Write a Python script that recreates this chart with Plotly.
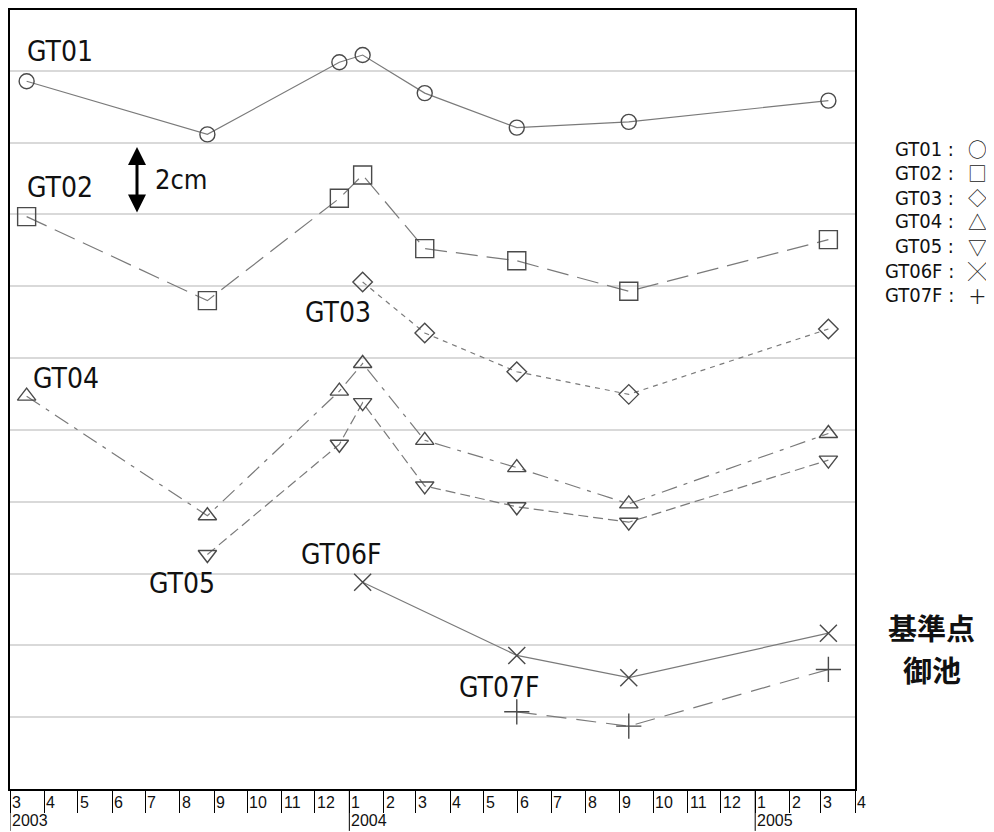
import plotly.graph_objects as go

# ---------------- data ----------------
survey_dates = ["2003-03-16", "2003-08-26", "2003-12-23", "2004-01-13",
                "2004-03-09", "2004-05-31", "2004-09-09", "2005-03-08"]

# plotted vertical positions (cm, stacked offsets as drawn)
gt01 = [19.71, 18.23, 20.24, 20.44, 19.38, 18.42, 18.58, 19.17]
gt02 = [15.94, 13.60, 16.45, 17.10, 15.05, 14.71, 13.86, 15.30]
gt03 = [14.12, 12.70, 11.62, 10.99, 12.81]
gt04 = [10.94, 7.61, 11.08, 11.85, 9.71, 8.95, 7.94, 9.90]
gt05 = [6.53, 9.60, 10.76, 8.44, 7.86, 7.43, 9.16]
gt06f = [5.76, 3.72, 3.10, 4.34]
gt07f = [2.15, 1.75, 3.33]

gt03_dates = survey_dates[3:]
gt05_dates = survey_dates[1:]
gt06f_dates = [survey_dates[3], survey_dates[5], survey_dates[6], survey_dates[7]]
gt07f_dates = survey_dates[5:]

station_names = ["GT01", "GT02", "GT03", "GT04", "GT05", "GT06F", "GT07F"]
legend_glyphs = ["○", "□", "◇", "△", "▽", "╳", "＋"]

month_ticks = ["2003-%02d-01" % m for m in range(3, 13)] + \
              ["2004-%02d-01" % m for m in range(1, 13)] + \
              ["2005-%02d-01" % m for m in range(1, 5)]
month_labels = [str(int(d[5:7])) for d in month_ticks]
year_ticks = ["2003-03-01", "2004-01-01", "2005-01-01"]
year_labels = ["2003", "2004", "2005"]

# ---------------- layout geometry ----------------
PAGE_OFF = 8                       # default body margin of the html page
W, H = 994 - PAGE_OFF, 832 - PAGE_OFF
PLOT_L, PLOT_T, PLOT_R, PLOT_B = 10, 8, 855, 789   # plot box in window pixels
ML, MT = PLOT_L - PAGE_OFF, PLOT_T - PAGE_OFF
PW, PH = PLOT_R - PLOT_L, PLOT_B - PLOT_T
MR, MB = W - ML - PW, H - MT - PH

def P(px, py):
    """window pixel -> paper fraction"""
    return (px - PLOT_L) / PW, (PLOT_B - py) / PH

LINE_C = "#7a7a7a"
MARK_C = "#4a4a4a"
NARROW = "Liberation Sans Narrow, Arial Narrow, DejaVu Sans Condensed, sans-serif"
TICKF = dict(family="Liberation Sans, Arial, sans-serif", size=16, color="#111")

series = [
    ("GT01", survey_dates, gt01, "circle-open", 15, "solid"),
    ("GT02", survey_dates, gt02, "square-open", 18, "22px,9px"),
    ("GT03", gt03_dates, gt03, "diamond-open", 15, "5px,5px"),
    ("GT04", survey_dates, gt04, "triangle-up-open", 16, "16px,7px,4px,7px"),
    ("GT05", gt05_dates, gt05, "triangle-down-open", 16, "10px,5px"),
    ("GT06F", gt06f_dates, gt06f, "x-thin-open", 17, "solid"),
    ("GT07F", gt07f_dates, gt07f, "cross-thin-open", 18, "20px,10px"),
]

fig = go.Figure()
for name, xs, ys, sym, size, dash in series:
    fig.add_trace(go.Scatter(
        x=xs, y=ys, name=name, mode="lines+markers",
        line=dict(color=LINE_C, width=1.2, dash=dash),
        marker=dict(symbol=sym, size=size, color=MARK_C,
                    line=dict(color=MARK_C, width=1.4)),
        showlegend=False, hoverinfo="x+y+name",
    ))

annotations = []
shapes = []

# month tick labels (left aligned next to each tick)
for d, lab in zip(month_ticks, month_labels):
    annotations.append(dict(x=d, xref="x", y=P(0, 803)[1], yref="paper",
                            text=lab, showarrow=False, xanchor="left", yanchor="middle",
                            xshift=0, font=TICKF))
for d, lab in zip(year_ticks, year_labels):
    annotations.append(dict(x=d, xref="x", y=P(0, 821)[1], yref="paper",
                            text=lab, showarrow=False, xanchor="left", yanchor="middle",
                            xshift=0, font=TICKF))
    shapes.append(dict(type="line", xref="x", yref="paper", x0=d, x1=d,
                       y0=0, y1=P(0, 831)[1], line=dict(color="black", width=1)))

# station labels inside the plot
label_pos = {"GT01": (60, 50), "GT02": (60, 186), "GT03": (338, 311), "GT04": (66, 377),
             "GT05": (182, 583), "GT06F": (341, 554), "GT07F": (499, 687)}
for name, (px, py) in label_pos.items():
    x, y = P(px, py)
    annotations.append(dict(x=x, y=y, xref="paper", yref="paper", text=name,
                            showarrow=False, xanchor="center", yanchor="middle",
                            font=dict(family=NARROW, size=28, color="#111")))

# 2 cm scale arrow
x, y = P(137, 211)
annotations.append(dict(x=x, y=y, xref="paper", yref="paper", text="",
                        showarrow=True, ax=0, ay=-67, axref="pixel", ayref="pixel",
                        arrowside="end+start", arrowhead=2, arrowsize=1.2,
                        arrowwidth=3, arrowcolor="black"))
x, y = P(181, 178)
annotations.append(dict(x=x, y=y, xref="paper", yref="paper", text="2cm",
                        showarrow=False, xanchor="center", yanchor="middle",
                        font=dict(family=NARROW, size=27, color="#111")))

# legend on the right
leg_y = [147, 171, 196, 220, 245, 270, 294]
for name, py in zip(station_names, leg_y):
    x, y = P(956, py)
    annotations.append(dict(x=x, y=y, xref="paper", yref="paper", text=name + " :",
                            showarrow=False, xanchor="right", yanchor="middle",
                            font=dict(family=NARROW, size=20, color="#111")))
x, y = P(977, sum(leg_y) / len(leg_y))
annotations.append(dict(x=x, y=y, xref="paper", yref="paper", text="<br>".join(legend_glyphs),
                        showarrow=False, xanchor="center", yanchor="middle", align="center",
                        font=dict(family="Noto Sans CJK JP, sans-serif", size=18.8, color="#222")))

# reference point note
for txt, py in [("基準点", 627), ("御池", 669)]:
    x, y = P(932, py)
    annotations.append(dict(x=x, y=y, xref="paper", yref="paper", text="<b>" + txt + "</b>",
                            showarrow=False, xanchor="center", yanchor="middle",
                            font=dict(family="Noto Sans CJK JP, sans-serif", size=29, color="#111")))

fig.update_layout(
    width=W, height=H,
    margin=dict(l=ML, r=MR, t=MT, b=MB, pad=0),
    paper_bgcolor="white", plot_bgcolor="white",
    showlegend=False,
    annotations=annotations, shapes=shapes,
    xaxis=dict(type="date", range=["2003-03-01", "2005-04-01"],
               tickvals=month_ticks, showticklabels=False,
               ticks="outside", ticklen=22, tickwidth=1, tickcolor="black",
               showgrid=False, zeroline=False,
               showline=True, linecolor="black", linewidth=1.5, mirror=True),
    yaxis=dict(range=[0, PH / 36.0], tick0=0, dtick=2, showticklabels=False, ticks="",
               showgrid=True, gridcolor="#d9d9d9", gridwidth=1.5, zeroline=False,
               showline=True, linecolor="black", linewidth=1.5, mirror=True),
)

fig.write_html("out.html")
